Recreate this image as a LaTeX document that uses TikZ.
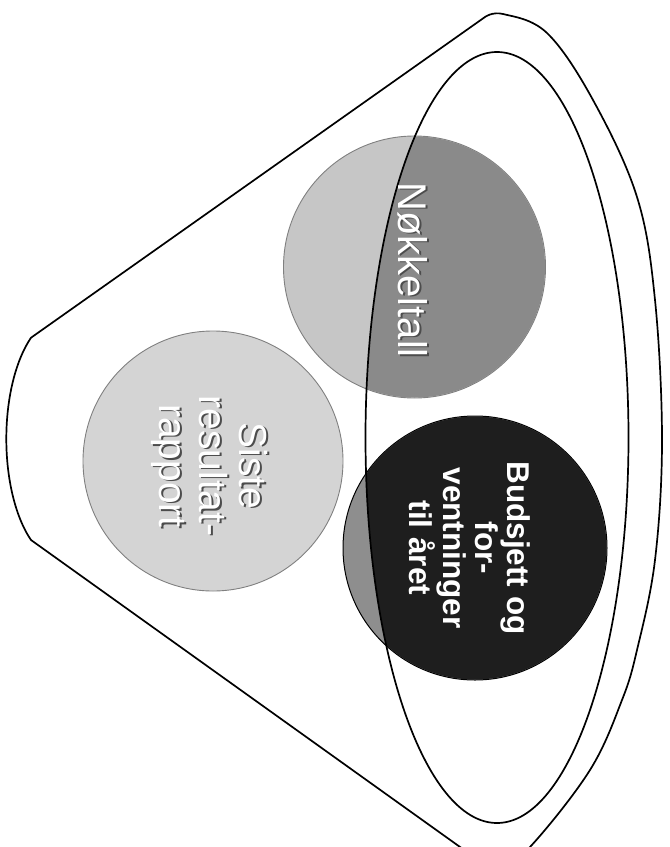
\documentclass[tikz,border=0pt]{standalone}
\usepackage{fontspec}
\setmainfont{Liberation Sans}
\definecolor{sisteFill}{HTML}{D4D4D4}
\definecolor{nokLight}{HTML}{C6C6C6}
\definecolor{nokDark}{HTML}{8A8A8A}
\definecolor{budLight}{HTML}{8E8E8E}
\definecolor{budDark}{HTML}{1E1E1E}
\begin{document}
\begin{tikzpicture}[x=1pt,y=-1pt,
  funnelline/.style={line width=1.7pt, draw=black, line join=round},
  disc/.style={circle, inner sep=0pt, minimum size=#1},
  rimline/.style={line width=0.9pt, draw=black!50},
  lbl/.style={text=white, rotate=-90, align=center, inner sep=0pt},
  lblshadow/.style={text=black!70, rotate=-90, align=center, inner sep=0pt},
  sistefont/.style={font=\fontsize{39}{40}\selectfont},
  nokfont/.style={font=\fontsize{40}{44}\selectfont},
  budfont/.style={font=\bfseries\fontsize{31.5}{32}\selectfont}]
\useasboundingbox (0,0) rectangle (670,847);
\fill[white] (0,0) rectangle (670,847);

% funnel outline
\begin{scope}
\clip (0,0) rectangle (670,847);
\draw[funnelline] (31,540) arc[start angle=124,end angle=236,x radius=56,y radius=122]
  -- plot[smooth,tension=0.6] coordinates {(485,17) (503,14) (547,33) (593,100) (637,197) (655,300) (662,440) (655,560) (637,650) (622,700) (590,770) (530,847) (495,872)}
  -- cycle;
\end{scope}

% circles (base colours)
\node[disc=260pt, fill=sisteFill, rimline] (siste) at (213,461) {};
\node[disc=262pt, fill=nokLight, rimline] (nok) at (414.5,267) {};
\node[disc=264pt, fill=budLight, draw=black, line width=1pt] (bud) at (475,548) {};

% parts inside the rim ellipse are darker
\begin{scope}
\clip (497,437.5) ellipse[x radius=131.5, y radius=385.5];
\fill[nokDark] (nok.center) circle[radius=130.5];
\fill[budDark] (bud.center) circle[radius=131.5];
\end{scope}

% inner rim ellipse
\draw[funnelline] (497,437.5) ellipse[x radius=131.5, y radius=385.5];

% labels
\node[lblshadow, sistefont] (sisteS) at (211.2,467.2) {Siste\\resultat-\\rapport};
\node[lbl, sistefont] (sisteT) at (210,466) {Siste\\resultat-\\rapport};
\node[lblshadow, nokfont] (nokS) at (414.2,271.2) {Nøkkeltall};
\node[lbl, nokfont] (nokT) at (413,270) {Nøkkeltall};
\node[lbl, budfont] (budT) at (470,548) {Budsjett og\\for-\\ventninger\\til året};
\end{tikzpicture}
\end{document}
